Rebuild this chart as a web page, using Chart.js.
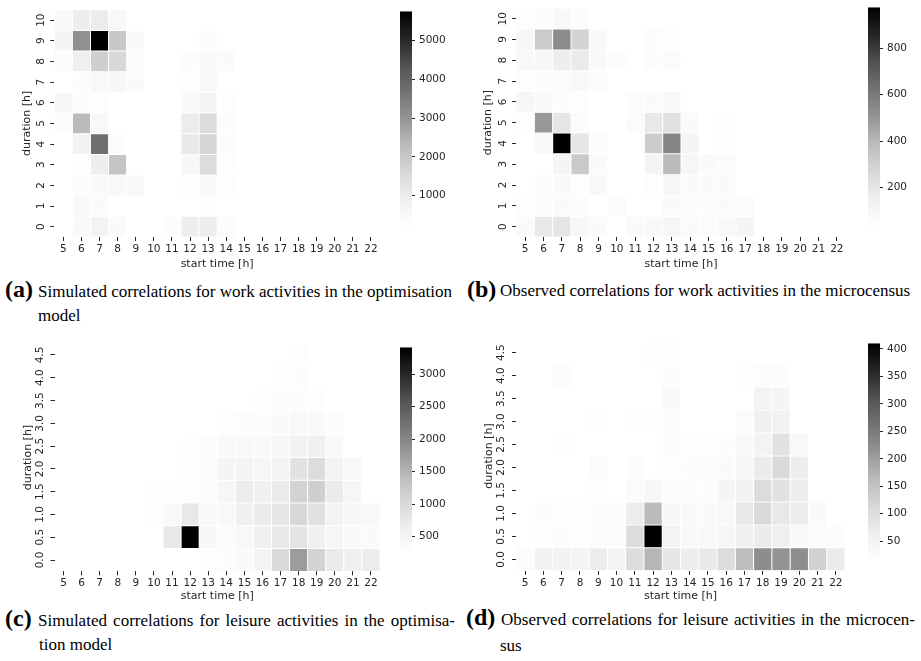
<!DOCTYPE html>
<html>
<head>
<meta charset="utf-8">
<script src="https://cdn.jsdelivr.net/npm/chart.js@4.4.1/dist/chart.umd.min.js"></script>
<style>
  html, body { margin: 0; padding: 0; background: #fff; }
  #fig { position: relative; width: 921px; height: 661px; overflow: hidden; background: #fff; }
  canvas { position: absolute; }
  .lbl { position: absolute; font: bold 24px/24px "Liberation Serif", "Times New Roman", serif; white-space: nowrap; color: #000; }
  .txt { position: absolute; font: 17px/24px "Liberation Serif", "Times New Roman", serif; white-space: nowrap; color: #000; }
  .just { white-space: normal; text-align: justify; text-align-last: justify; }
</style>
</head>
<body>
<div id="fig">
  <div class="lbl" style="left:5px;top:277px">(a)</div>
  <div class="txt" style="left:38px;top:280px;width:422px">Simulated correlations for work activities in the optimisation</div>
  <div class="txt" style="left:38px;top:304px">model</div>

  <div class="lbl" style="left:467px;top:277px">(b)</div>
  <div class="txt" style="left:500px;top:279px">Observed correlations for work activities in the microcensus</div>

  <div class="lbl" style="left:5px;top:606px">(c)</div>
  <div class="txt just" style="left:38px;top:609px;width:417px">Simulated correlations for leisure activities in the optimisa-</div>
  <div class="txt" style="left:39px;top:633px">tion model</div>

  <div class="lbl" style="left:466px;top:605px">(d)</div>
  <div class="txt just" style="left:501px;top:608px;width:414px">Observed correlations for leisure activities in the microcen-</div>
  <div class="txt" style="left:500px;top:634px">sus</div>
</div>
<script>
const startHours = ['5', '6', '7', '8', '9', '10', '11', '12', '13', '14', '15', '16', '17', '18', '19', '20', '21', '22'];
const workDurations = ['0', '1', '2', '3', '4', '5', '6', '7', '8', '9', '10'];
const leisureDurations = ['0.0', '0.5', '1.0', '1.5', '2.0', '2.5', '3.0', '3.5', '4.0', '4.5'];

// one row per duration (bottom row first), one column per start hour, 0 = empty cell
const workSimulated = [
  [0, 451, 731, 407, 0, 0, 312, 932, 960, 356, 0, 0, 0, 0, 0, 0, 0, 0],
  [0, 496, 407, 0, 0, 0, 0, 0, 267, 0, 0, 0, 0, 0, 0, 0, 0, 0],
  [0, 356, 407, 496, 496, 0, 0, 267, 451, 267, 0, 0, 0, 0, 0, 0, 0, 0],
  [0, 267, 932, 2066, 0, 0, 0, 546, 1480, 267, 0, 0, 0, 0, 0, 0, 0, 0],
  [0, 775, 3748, 312, 0, 0, 0, 1111, 1670, 312, 0, 0, 0, 0, 0, 0, 0, 0],
  [356, 2301, 496, 0, 0, 0, 0, 993, 1480, 312, 0, 0, 0, 0, 0, 0, 0, 0],
  [546, 312, 267, 0, 0, 0, 0, 451, 731, 267, 0, 0, 0, 0, 0, 0, 0, 0],
  [0, 312, 496, 546, 407, 0, 0, 267, 496, 0, 0, 0, 0, 0, 0, 0, 0, 0],
  [312, 898, 1820, 1591, 356, 0, 0, 312, 451, 407, 0, 0, 0, 0, 0, 0, 0, 0],
  [636, 3078, 5760, 1994, 407, 0, 0, 0, 356, 0, 0, 0, 0, 0, 0, 0, 0, 0],
  [407, 932, 993, 496, 0, 0, 0, 0, 0, 0, 0, 0, 0, 0, 0, 0, 0, 0]
];
const workObserved = [
  [67, 187, 197, 91, 67, 0, 67, 82, 98, 67, 58, 82, 106, 0, 0, 0, 0, 0],
  [43, 58, 67, 51, 0, 58, 0, 0, 67, 51, 51, 67, 58, 0, 0, 0, 0, 0],
  [0, 51, 67, 43, 82, 0, 0, 43, 98, 67, 67, 67, 0, 0, 0, 0, 0, 0],
  [0, 0, 106, 331, 67, 0, 0, 114, 389, 98, 67, 58, 0, 0, 0, 0, 0, 0],
  [0, 82, 976, 197, 51, 0, 0, 316, 558, 106, 0, 43, 0, 0, 0, 0, 0, 0],
  [43, 495, 197, 58, 0, 0, 58, 187, 229, 67, 0, 43, 0, 0, 0, 0, 0, 0],
  [98, 82, 51, 43, 0, 0, 51, 67, 82, 0, 0, 0, 0, 0, 0, 0, 0, 0],
  [43, 51, 58, 82, 51, 0, 0, 0, 0, 0, 0, 0, 0, 0, 0, 0, 0, 0],
  [82, 91, 156, 176, 75, 51, 0, 51, 58, 0, 0, 0, 0, 0, 0, 0, 0, 0],
  [91, 322, 535, 286, 75, 0, 0, 51, 43, 0, 0, 0, 0, 0, 0, 0, 0, 0],
  [43, 51, 82, 51, 0, 0, 0, 0, 0, 0, 0, 0, 0, 0, 0, 0, 0, 0]
];
const leisureSimulated = [
  [0, 0, 0, 0, 0, 0, 0, 0, 277, 303, 357, 542, 1004, 1753, 1103, 723, 637, 692],
  [0, 0, 0, 0, 0, 0, 759, 3411, 435, 340, 408, 621, 759, 829, 621, 462, 408, 357],
  [0, 0, 0, 0, 0, 277, 408, 759, 370, 408, 621, 708, 794, 1052, 899, 542, 437, 408],
  [0, 0, 0, 0, 0, 277, 277, 277, 330, 462, 692, 621, 723, 1103, 1163, 708, 462, 0],
  [0, 0, 0, 0, 0, 0, 0, 277, 328, 488, 516, 462, 542, 864, 969, 542, 408, 0],
  [0, 0, 0, 0, 0, 0, 0, 249, 303, 382, 408, 382, 437, 567, 621, 408, 0, 0],
  [0, 0, 0, 0, 0, 0, 0, 0, 0, 277, 303, 303, 357, 408, 382, 303, 0, 0],
  [0, 0, 0, 0, 0, 0, 0, 0, 0, 0, 0, 277, 303, 303, 277, 0, 0, 0],
  [0, 0, 0, 0, 0, 0, 0, 0, 0, 0, 0, 0, 277, 303, 0, 0, 0, 0],
  [0, 0, 0, 0, 0, 0, 0, 0, 0, 0, 0, 0, 0, 277, 0, 0, 0, 0]
];
const leisureObserved = [
  [24, 54, 54, 48, 70, 51, 102, 170, 82, 65, 76, 104, 158, 224, 215, 222, 125, 71],
  [0, 18, 21, 18, 24, 24, 104, 410, 51, 32, 34, 41, 61, 71, 63, 28, 24, 21],
  [0, 21, 18, 18, 24, 21, 70, 163, 38, 30, 28, 34, 78, 110, 78, 70, 28, 0],
  [0, 0, 0, 0, 18, 0, 24, 41, 24, 21, 21, 44, 54, 104, 91, 70, 0, 0],
  [0, 0, 0, 0, 24, 0, 21, 0, 18, 21, 24, 28, 38, 71, 110, 67, 0, 0],
  [0, 0, 14, 0, 0, 0, 0, 0, 21, 18, 18, 21, 34, 51, 91, 34, 0, 0],
  [0, 0, 0, 0, 18, 0, 18, 14, 21, 0, 0, 0, 24, 61, 54, 0, 0, 0],
  [0, 0, 0, 0, 0, 0, 0, 0, 31, 0, 0, 0, 0, 51, 44, 0, 0, 0],
  [0, 0, 21, 0, 0, 0, 0, 0, 21, 0, 0, 0, 14, 21, 21, 0, 0, 0],
  [0, 0, 0, 0, 0, 0, 0, 14, 18, 0, 0, 0, 0, 0, 0, 0, 0, 0]
];

// colour bar ranges and ticks
const workSimulatedRange = [172, 5760];
const workObservedRange = [27, 976];
const leisureSimulatedRange = [223, 3411];
const leisureObservedRange = [11, 410];
const workSimulatedTicks = [1000, 2000, 3000, 4000, 5000];
const workObservedTicks = [200, 400, 600, 800];
const leisureSimulatedTicks = [500, 1000, 1500, 2000, 2500, 3000];
const leisureObservedTicks = [50, 100, 150, 200, 250, 300, 350, 400];

// matplotlib "Greys"
const greysStops = ['#ffffff', '#f0f0f0', '#d9d9d9', '#bdbdbd', '#969696', '#737373', '#525252', '#252525', '#000000'];

const greys = (t) => {
    t = Math.max(0, Math.min(1, t));
    const pos = t * (greysStops.length - 1);
    const i = Math.min(Math.floor(pos), greysStops.length - 2);
    const f = pos - i;
    const a = parseInt(greysStops[i].slice(1, 3), 16);
    const b = parseInt(greysStops[i + 1].slice(1, 3), 16);
    const g = Math.round(a + (b - a) * f);
    return `rgb(${g},${g},${g})`;
};

Chart.defaults.font.family = '"DejaVu Sans", sans-serif';
Chart.defaults.font.size = 10.5;
Chart.defaults.color = '#262626';

const panels = [
    { values: workSimulated, rows: workDurations, range: workSimulatedRange, cbTicks: workSimulatedTicks,
      box: { left: 0, top: 0, width: 390, height: 275 }, yAxisW: 54.3, padTop: 9.8, padRight: 10, xAxisH: 38,
      yTitlePad: 20.1, xTitlePad: 3.9, cb: { left: 400, top: 9.3, h: 220.7 } },
    { values: workObserved, rows: workDurations, range: workObservedRange, cbTicks: workObservedTicks,
      box: { left: 460, top: 0, width: 395, height: 275 }, yAxisW: 56, padTop: 5, padRight: 9, xAxisH: 38,
      yTitlePad: 21.7, xTitlePad: 3.9, cb: { left: 868, top: 5, h: 225 } },
    { values: leisureSimulated, rows: leisureDurations, range: leisureSimulatedRange, cbTicks: leisureSimulatedTicks,
      box: { left: 0, top: 330, width: 390, height: 275 }, yAxisW: 54.5, padTop: 13.6, padRight: 10, xAxisH: 33.6,
      yTitlePad: 21.1, xTitlePad: 2.4, cb: { left: 400, top: 345, h: 211.7 } },
    { values: leisureObserved, rows: leisureDurations, range: leisureObservedRange, cbTicks: leisureObservedTicks,
      box: { left: 460, top: 330, width: 395, height: 275 }, yAxisW: 56, padTop: 11.2, padRight: 10, xAxisH: 34.2,
      yTitlePad: 22.4, xTitlePad: 2.4, cb: { left: 868, top: 341.7, h: 223.3 } }
];

const fig = document.getElementById('fig');

const addCanvas = (left, top, width, height) => {
    const c = document.createElement('canvas');
    c.width = width;
    c.height = height;
    c.style.left = left + 'px';
    c.style.top = top + 'px';
    fig.appendChild(c);
    return c;
};

const tickGrid = (len) => ({
    drawOnChartArea: false,
    drawTicks: true,
    tickLength: len,
    tickColor: '#262626',
    color: '#262626',
    tickWidth: 1,
    offset: false
});

const createHeatmap = (p) => {
    const [vmin, vmax] = p.range;
    const cells = [];
    p.values.forEach((row, r) => {
        row.forEach((v, c) => {
            if (v > 0) {
                cells.push({ x: startHours[c], y: [r - 0.5, r + 0.5], v: v });
            }
        });
    });
    const rowTicks = p.rows.map((label, i) => ({ value: i }));

    new Chart(addCanvas(p.box.left, p.box.top, p.box.width, p.box.height), {
        type: 'bar',
        data: {
            labels: startHours,
            datasets: [{
                data: cells,
                backgroundColor: (ctx) => ctx.raw ? greys((ctx.raw.v - vmin) / (vmax - vmin)) : '#fff',
                borderColor: '#ffffff',
                borderWidth: 0.5,
                borderSkipped: false,
                barPercentage: 1,
                categoryPercentage: 1,
                inflateAmount: 0
            }]
        },
        options: {
            responsive: false,
            animation: false,
            events: [],
            layout: { autoPadding: false, padding: { left: 0, top: p.padTop, right: p.padRight, bottom: 0 } },
            plugins: { legend: { display: false }, tooltip: { enabled: false } },
            scales: {
                x: {
                    type: 'category',
                    offset: true,
                    grid: tickGrid(4),
                    border: { display: false },
                    ticks: { autoSkip: false, maxRotation: 0, minRotation: 0, padding: 2, font: { size: 10.5 } },
                    title: { display: true, text: 'start time [h]', font: { size: 11 }, padding: { top: 0, bottom: p.xTitlePad } },
                    afterFit: (s) => { s.height = p.xAxisH; }
                },
                y: {
                    type: 'linear',
                    min: -0.5,
                    max: p.rows.length - 0.5,
                    grid: tickGrid(4),
                    border: { display: false },
                    afterBuildTicks: (s) => { s.ticks = rowTicks.map(t => ({ value: t.value })); },
                    ticks: {
                        autoSkip: false,
                        minRotation: 90,
                        maxRotation: 90,
                        crossAlign: 'center',
                        padding: 2,
                        font: { size: 10.5 },
                        callback: (v, i) => p.rows[i]
                    },
                    title: { display: true, text: 'duration [h]', font: { size: 11 }, padding: { top: p.yTitlePad, bottom: 0 } },
                    afterFit: (s) => { s.width = p.yAxisW; }
                }
            }
        }
    });
};

const createColorbar = (p) => {
    const [vmin, vmax] = p.range;
    const top0 = Math.floor(p.cb.top) - 8;
    const height = Math.ceil(p.cb.top + p.cb.h + 8) - top0;
    const padTop = p.cb.top - top0;
    const padBottom = height - padTop - p.cb.h;

    new Chart(addCanvas(p.cb.left, top0, 62, height), {
        type: 'bar',
        data: {
            labels: ['cb'],
            datasets: [{
                data: [[vmin, vmax]],
                backgroundColor: (ctx) => {
                    const area = ctx.chart.chartArea;
                    if (!area) return '#999';
                    const g = ctx.chart.ctx.createLinearGradient(0, area.bottom, 0, area.top);
                    greysStops.forEach((c, i) => g.addColorStop(i / (greysStops.length - 1), c));
                    return g;
                },
                borderWidth: 0,
                barPercentage: 1,
                categoryPercentage: 1,
                inflateAmount: 0
            }]
        },
        options: {
            responsive: false,
            animation: false,
            events: [],
            layout: { autoPadding: false, padding: { left: 0, right: 0, top: padTop, bottom: padBottom } },
            plugins: { legend: { display: false }, tooltip: { enabled: false } },
            scales: {
                x: { display: false },
                y: {
                    position: 'right',
                    min: vmin,
                    max: vmax,
                    grid: tickGrid(3),
                    border: { display: false },
                    afterBuildTicks: (s) => { s.ticks = p.cbTicks.map(v => ({ value: v })); },
                    ticks: { autoSkip: false, padding: 4, font: { size: 10.5 }, callback: (v) => String(v) },
                    afterFit: (s) => { s.width = 50; }
                }
            }
        }
    });
};

panels.forEach((p) => {
    createHeatmap(p);
    createColorbar(p);
});
</script>
</body>
</html>
